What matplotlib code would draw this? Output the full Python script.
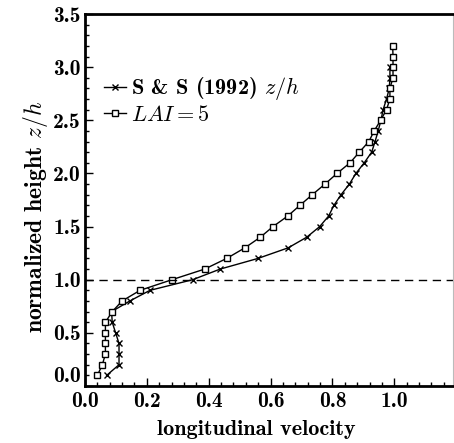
import matplotlib
matplotlib.use("Agg")
import matplotlib.pyplot as plt

plt.rcParams['font.family'] = ['cmb10', 'DejaVu Serif']
plt.rcParams['mathtext.fontset'] = 'cm'
plt.rcParams['axes.unicode_minus'] = False

z_lai = [0.1, 0.2, 0.3, 0.4, 0.5, 0.6, 0.7, 0.8, 0.9, 1.0, 1.1, 1.2, 1.3, 1.4, 1.5, 1.6,
         1.7, 1.8, 1.9, 2.0, 2.1, 2.2, 2.3, 2.4, 2.5, 2.6, 2.7, 2.8, 2.9, 3.0, 3.1, 3.2]
u_lai = [0.040, 0.056, 0.066, 0.066, 0.066, 0.066, 0.088, 0.120, 0.178, 0.281, 0.387, 0.458,
         0.517, 0.567, 0.608, 0.656, 0.695, 0.735, 0.776, 0.815, 0.857, 0.887, 0.918, 0.935,
         0.956, 0.975, 0.986, 0.986, 0.996, 0.996, 0.996, 0.995]

z_ss = [0.1, 0.2, 0.3, 0.4, 0.5, 0.6, 0.7, 0.8, 0.9, 1.0, 1.1, 1.2, 1.3, 1.4, 1.5, 1.6,
        1.7, 1.8, 1.9, 2.0, 2.1, 2.2, 2.3, 2.4, 2.5, 2.6, 2.7, 2.8, 2.9, 3.0]
u_ss = [0.070, 0.110, 0.110, 0.110, 0.099, 0.088, 0.086, 0.145, 0.210, 0.348, 0.437, 0.559,
        0.657, 0.717, 0.759, 0.788, 0.805, 0.828, 0.855, 0.876, 0.903, 0.927, 0.938, 0.948,
        0.957, 0.964, 0.975, 0.984, 0.986, 0.986]

canopy_top = 1.0
xtick_vals = [0.0, 0.2, 0.4, 0.6, 0.8, 1.0]
xtick_labels = ['0.0', '0.2', '0.4', '0.6', '0.8', '1.0']
ytick_vals = [0.0, 0.5, 1.0, 1.5, 2.0, 2.5, 3.0, 3.5]
ytick_labels = ['0.0', '0.5', '1.0', '1.5', '2.0', '2.5', '3.0', '3.5']

fs = 15.5

fig = plt.figure(figsize=(4.54, 4.43), dpi=100)
ax = fig.add_axes([85/454, 1 - 386/443, (453-85)/454, (386-14)/443])

ax.plot(u_ss, z_ss, color='black', lw=1.0, marker='x', ms=5, mew=1.0,
        label=r'S & S (1992) $z/h$')
ax.plot(u_lai, z_lai, color='black', lw=1.0, marker='s', ms=5, mew=1.0,
        mfc='white', label=r'$LAI=5$')
ax.axhline(canopy_top, color='black', lw=1.0, ls=(0, (6, 4)))

ax.set_xlim(0, 1.19)
ax.set_ylim(0, 3.5)
ax.set_xticks(xtick_vals)
ax.set_xticks([i*0.04 for i in range(30)], minor=True)
ax.set_yticks(ytick_vals)
ax.set_yticks([i*0.1 for i in range(36)], minor=True)
ax.set_xticklabels(xtick_labels)
ax.set_yticklabels(ytick_labels)
ax.tick_params(which='both', direction='in', top=False, right=False, labelsize=fs,
               width=1.0, color='black')
ax.tick_params(which='major', length=6, pad=3)
ax.tick_params(axis='x', which='major', pad=4)
ax.tick_params(which='minor', length=3)
ax.get_yticklabels()[0].set_verticalalignment('bottom')

for s in ['left', 'bottom', 'top']:
    ax.spines[s].set_linewidth(2.0)
ax.spines['right'].set_linewidth(0.8)
ax.spines['right'].set_color('#bbbbbb')

ax.set_xlabel('longitudinal velocity', fontsize=fs + 0.5)
ax.xaxis.set_label_coords(0.465, -0.118, transform=ax.transAxes)
ax.xaxis.label.set_verticalalignment('center')
ax.set_ylabel(r'normalized height $z/h$', fontsize=fs + 1.5)
ax.yaxis.set_label_coords(-0.135, 0.455, transform=ax.transAxes)
ax.yaxis.label.set_verticalalignment('center')

ax.legend(loc='upper left', bbox_to_anchor=(0.01, 0.877), frameon=False, fontsize=fs + 0.5,
          handlelength=1.0, handletextpad=0.2, numpoints=1, labelspacing=0.1,
          borderaxespad=0.3)

fig.savefig('out.png', dpi=100)
